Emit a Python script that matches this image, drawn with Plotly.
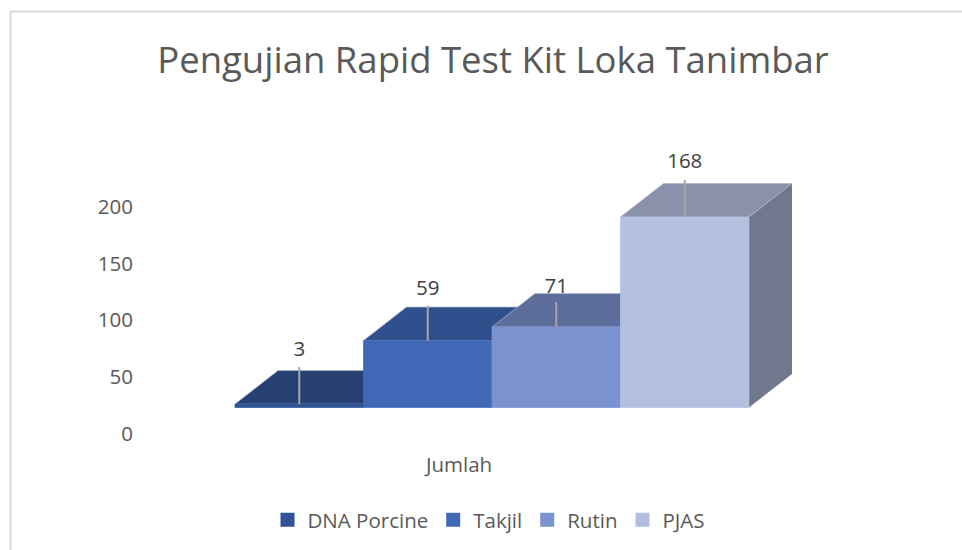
import plotly.graph_objects as go

series_names = ["DNA Porcine", "Takjil", "Rutin", "PJAS"]
series_values = [3, 59, 71, 168]
category_label = "Jumlah"
y_ticks = [0, 50, 100, 150, 200]
title_text = "Pengujian Rapid Test Kit Loka Tanimbar"

# styles
front_colors = ["#2F5597", "#3F69B6", "#7A92CF", "#B3C0DF"]
top_colors = ["#264072", "#2F508C", "#5D6D9C", "#8A91AB"]
side_colors = ["#1F3560", "#2B4A82", "#56658F", "#6F788D"]
legend_colors = ["#2F5597", "#3F69B6", "#7A92CF", "#B1BEDF"]
TEXT_DARK = "#404040"
TEXT_GREY = "#595959"
FONT = "Open Sans"

# layout geometry of the fake-3D projection, in axis units
W, H = 962, 550
ML, MB = 134, 100
PX_X = 128.5            # pixels per bar
PX_Y = 1.134            # pixels per value unit
X0_PX, ZERO_PX = 235, 433.5
FLOOR = 26 / PX_Y       # floor of the bars sits above the axis zero
DX = 43 / PX_X          # depth offset
DY = 33.5 / PX_Y
LEADER = [37 / PX_Y, 35 / PX_Y, 25 / PX_Y, 37 / PX_Y]
LABEL_GAP = [18 / PX_Y, 18 / PX_Y, 16 / PX_Y, 19 / PX_Y]

fig = go.Figure()

for i, (name, v) in enumerate(zip(series_names, series_values)):
    top = FLOOR + v
    # side, top, front faces
    fig.add_trace(go.Scatter(
        x=[i + 1, i + 1 + DX, i + 1 + DX, i + 1, i + 1],
        y=[FLOOR, FLOOR + DY, top + DY, top, FLOOR],
        mode="lines", fill="toself", fillcolor=side_colors[i],
        line=dict(width=0), hoverinfo="skip", showlegend=False))
    fig.add_trace(go.Scatter(
        x=[i, i + DX, i + 1 + DX, i + 1, i],
        y=[top, top + DY, top + DY, top, top],
        mode="lines", fill="toself", fillcolor=top_colors[i],
        line=dict(width=0.7, color="#AEB6CC"), hoverinfo="skip", showlegend=False))
    fig.add_trace(go.Scatter(
        x=[i, i + 1, i + 1, i, i],
        y=[FLOOR, FLOOR, top, top, FLOOR],
        mode="lines", fill="toself", fillcolor=front_colors[i],
        line=dict(width=0.7, color=front_colors[i]), hoverinfo="skip", showlegend=False))

# leader lines and value labels (above all faces)
for i, v in enumerate(series_values):
    top = FLOOR + v
    fig.add_trace(go.Scatter(
        x=[i + 0.5, i + 0.5], y=[top, top + LEADER[i]],
        mode="lines", line=dict(color="#A6A6A6", width=2),
        hoverinfo="skip", showlegend=False))
    fig.add_trace(go.Scatter(
        x=[i + 0.5], y=[top + LEADER[i] + LABEL_GAP[i] - 2 / PX_Y],
        mode="text", text=[str(v)], textposition="middle center",
        textfont=dict(family=FONT, size=20.5, color=TEXT_DARK),
        hoverinfo="skip", showlegend=False))

# legend entries
for name, c in zip(series_names, legend_colors):
    fig.add_trace(go.Scatter(
        x=[None], y=[None], mode="markers", name=name,
        marker=dict(symbol="square", size=14, color=c)))

x_lo = (ML - X0_PX) / PX_X
x_hi = (W - X0_PX) / PX_X
y_lo = (ZERO_PX - (H - MB)) / PX_Y
y_hi = ZERO_PX / PX_Y

def px(x):
    return (x - ML) / (W - ML)

def py(y):
    return ((H - MB) - y) / (H - MB)

fig.update_layout(
    width=W, height=H,
    margin=dict(l=ML, r=0, t=0, b=MB, autoexpand=False),
    paper_bgcolor="white", plot_bgcolor="rgba(0,0,0,0)",
    font=dict(family=FONT, color=TEXT_GREY),
    title=dict(text=title_text, x=493 / W, y=1 - 60 / H, xanchor="center", yanchor="middle",
               xref="container",
               font=dict(family=FONT, size=36.5, color=TEXT_GREY)),
    xaxis=dict(range=[x_lo, x_hi], showgrid=False, zeroline=False, showline=False,
               tickmode="array", tickvals=[(459 - X0_PX) / PX_X], ticktext=[category_label],
               ticks="", tickfont=dict(family=FONT, size=20.5, color=TEXT_GREY), automargin=False),
    yaxis=dict(range=[y_lo, y_hi], showgrid=False, zeroline=False, showline=False,
               tickmode="array", tickvals=y_ticks, ticks="",
               tickfont=dict(family=FONT, size=20.5, color=TEXT_GREY), automargin=False),
    legend=dict(orientation="h", x=(489 - ML) / (W - ML), xanchor="center",
                y=-(521 - 450 - 21) / (H - MB), yanchor="top",
                font=dict(family=FONT, size=20.5, color=TEXT_GREY), bgcolor="rgba(0,0,0,0)"),
    shapes=[dict(type="path", xref="paper", yref="paper",
                 path=f"M {px(10.5)} {py(H)} L {px(10.5)} {py(11.5)} L {px(W)} {py(11.5)}",
                 line=dict(color="#D9D9D9", width=2))],
)

fig.write_html("out.html", config={"displayModeBar": False},
               post_script="document.body.style.margin='0';document.documentElement.style.overflow='hidden';")
